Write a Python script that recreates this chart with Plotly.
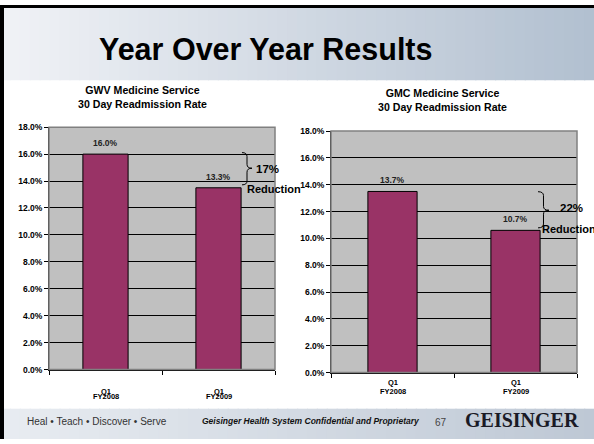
import plotly.graph_objects as go

W, H = 594, 444

# ---------------- data ----------------
categories = ["Q1 FY2008", "Q1 FY2009"]
cat_line1 = ["Q1", "Q1"]
cat_line2 = ["FY2008", "FY2009"]

gwv_values = [16.0, 13.5]
gwv_labels = ["16.0%", "13.3%"]
gmc_values = [13.5, 10.6]
gmc_labels = ["13.7%", "10.7%"]

y_ticks = [0, 2, 4, 6, 8, 10, 12, 14, 16, 18]
y_ticktext = ["<b>%.1f%%</b>" % v for v in y_ticks]

main_title = "Year Over Year Results"
left_title = "GWV Medicine Service<br>30 Day Readmission Rate"
right_title = "GMC Medicine Service<br>30 Day Readmission Rate"
left_reduction = "17%"
right_reduction = "22%"

BAR = "#993366"
FONT = "Liberation Sans, Arial, sans-serif"


def px(x):
    return x / W


def py(y):
    return 1 - y / H


fig = go.Figure()
fig.add_trace(go.Bar(x=categories, y=gwv_values, marker=dict(color=BAR, line=dict(color="black", width=1)),
                     xaxis="x", yaxis="y", showlegend=False, hoverinfo="skip"))
fig.add_trace(go.Bar(x=categories, y=gmc_values, marker=dict(color=BAR, line=dict(color="black", width=1)),
                     xaxis="x2", yaxis="y2", showlegend=False, hoverinfo="skip"))

yax = dict(range=[0, 18], tickvals=y_ticks, ticktext=y_ticktext, showgrid=True, gridcolor="black",
           gridwidth=1, showline=True, linecolor="black", linewidth=1, ticks="outside", ticklen=4,
           tickcolor="black", tickfont=dict(family=FONT, size=8.5, color="black"), zeroline=False,
           fixedrange=True)
xax = dict(type="category", showline=True, linecolor="black", linewidth=1, ticks="outside",
           tickson="boundaries", ticklen=4, tickcolor="black", showticklabels=False, showgrid=False,
           fixedrange=True)

fig.update_layout(
    width=W, height=H, margin=dict(l=0, r=0, t=0, b=0),
    paper_bgcolor="white", plot_bgcolor="#c0c0c0",
    bargap=0.6,
    xaxis=dict(domain=[px(49), px(275)], anchor="y", **xax),
    yaxis=dict(domain=[py(373), py(125)], anchor="x", **yax),
    xaxis2=dict(domain=[px(331), px(577)], anchor="y2", **xax),
    yaxis2=dict(domain=[py(376), py(129)], anchor="x2", **yax),
)

shapes = []
# title band gradient
N = 60
c0 = (240, 242, 246)
c1 = (178, 192, 208)
for i in range(N):
    t = i / (N - 1)
    col = "rgb(%d,%d,%d)" % tuple(round(a + (b - a) * t) for a, b in zip(c0, c1))
    shapes.append(dict(type="rect", xref="paper", yref="paper", x0=i / N, x1=(i + 1) / N + 0.002,
                       y0=py(77), y1=1, fillcolor=col, line=dict(width=0), layer="below"))
# footer gradient
f0 = (232, 236, 241)
f1 = (190, 200, 213)
for i in range(N):
    t = i / (N - 1)
    col = "rgb(%d,%d,%d)" % tuple(round(a + (b - a) * t) for a, b in zip(f0, f1))
    shapes.append(dict(type="rect", xref="paper", yref="paper", x0=i / N, x1=(i + 1) / N + 0.002,
                       y0=0, y1=py(413), fillcolor=col, line=dict(width=0), layer="below"))
# slide black frame
shapes.append(dict(type="rect", xref="paper", yref="paper", x0=0, x1=px(4), y0=0, y1=1,
                   fillcolor="black", line=dict(width=0)))
shapes.append(dict(type="rect", xref="paper", yref="paper", x0=0, x1=1, y0=py(3), y1=1,
                   fillcolor="black", line=dict(width=0)))
# plot area borders
for xr, yr in (("x domain", "y domain"), ("x2 domain", "y2 domain")):
    shapes.append(dict(type="rect", xref=xr, yref=yr, x0=0, x1=1, y0=0, y1=1,
                       line=dict(color="#808080", width=1.5), layer="above"))


def brace(x0, xv, xt, ytop, ybot, ymid, r=4):
    pts = [
        "M %f,%f" % (px(x0), py(ytop)),
        "Q %f,%f %f,%f" % (px(xv), py(ytop), px(xv), py(ytop + r)),
        "L %f,%f" % (px(xv), py(ymid - r)),
        "Q %f,%f %f,%f" % (px(xv), py(ymid), px(xt), py(ymid)),
        "Q %f,%f %f,%f" % (px(xv), py(ymid), px(xv), py(ymid + r)),
        "L %f,%f" % (px(xv), py(ybot - r)),
        "Q %f,%f %f,%f" % (px(xv), py(ybot), px(x0), py(ybot)),
    ]
    return dict(type="path", xref="paper", yref="paper", path=" ".join(pts),
                line=dict(color="black", width=1))


shapes.append(brace(242, 247, 252, 151, 184, 167))
shapes.append(brace(538, 543.5, 549, 191, 228, 210))
fig.update_layout(shapes=shapes)

ann = []
ann.append(dict(text="<b>" + main_title + "</b>", x=px(265), y=py(45), xref="paper", yref="paper",
                showarrow=False, font=dict(family=FONT, size=30.5, color="black"),
                xanchor="center", yanchor="middle"))
ann.append(dict(text="<b>" + left_title + "</b>", x=px(142), y=py(94.5), xref="paper", yref="paper",
                showarrow=False, font=dict(family=FONT, size=10.6, color="black"),
                xanchor="center", yanchor="middle"))
ann.append(dict(text="<b>" + right_title + "</b>", x=px(442), y=py(97.5), xref="paper", yref="paper",
                showarrow=False, font=dict(family=FONT, size=10.6, color="black"),
                xanchor="center", yanchor="middle"))
# value labels
for xr, yr, vals, labs in (("x", "y", gwv_values, gwv_labels), ("x2", "y2", gmc_values, gmc_labels)):
    for c, v, l in zip(categories, vals, labs):
        ann.append(dict(text="<b>" + l + "</b>", x=c, y=v, xref=xr, yref=yr, showarrow=False,
                        yanchor="bottom", yshift=4, font=dict(family=FONT, size=8.5, color="#222222")))
# category labels (left chart's two lines overlap, as in the original slide)
for c, l1, l2 in zip(categories, cat_line1, cat_line2):
    ann.append(dict(text="<b>" + l1 + "</b>", x=c, y=py(395), xref="x", yref="paper", showarrow=False,
                    yanchor="middle", font=dict(family=FONT, size=7.5, color="black")))
    ann.append(dict(text="<b>" + l2 + "</b>", x=c, y=py(400.5), xref="x", yref="paper", showarrow=False,
                    yanchor="middle", font=dict(family=FONT, size=7.5, color="black")))
    ann.append(dict(text="<b>" + l1 + "</b>", x=c, y=py(386), xref="x2", yref="paper", showarrow=False,
                    yanchor="middle", font=dict(family=FONT, size=7.5, color="black")))
    ann.append(dict(text="<b>" + l2 + "</b>", x=c, y=py(395.5), xref="x2", yref="paper", showarrow=False,
                    yanchor="middle", font=dict(family=FONT, size=7.5, color="black")))
# reductions
ann.append(dict(text="<b>" + left_reduction + "</b>", x=px(254), y=py(168), xref="paper", yref="paper",
                showarrow=False, xanchor="left", yanchor="middle",
                font=dict(family=FONT, size=11.5, color="black")))
ann.append(dict(text="<b>Reduction</b>", x=px(245), y=py(188), xref="paper", yref="paper",
                showarrow=False, xanchor="left", yanchor="middle",
                font=dict(family=FONT, size=11, color="black")))
ann.append(dict(text="<b>" + right_reduction + "</b>", x=px(558), y=py(207.5), xref="paper", yref="paper",
                showarrow=False, xanchor="left", yanchor="middle",
                font=dict(family=FONT, size=11.5, color="black")))
ann.append(dict(text="<b>Reduction</b>", x=px(540), y=py(229), xref="paper", yref="paper",
                showarrow=False, xanchor="left", yanchor="middle",
                font=dict(family=FONT, size=11, color="black")))
# footer
ann.append(dict(text="Heal \u2022 Teach \u2022 Discover \u2022 Serve", x=px(25), y=py(426), xref="paper",
                yref="paper", showarrow=False, xanchor="left", yanchor="middle",
                font=dict(family=FONT, size=10, color="#333333")))
ann.append(dict(text="<b><i>Geisinger Health System Confidential and Proprietary</i></b>", x=px(200),
                y=py(426), xref="paper", yref="paper", showarrow=False, xanchor="left", yanchor="middle",
                font=dict(family=FONT, size=8.5, color="#111111")))
ann.append(dict(text="67", x=px(433), y=py(427), xref="paper", yref="paper", showarrow=False,
                xanchor="left", yanchor="middle", font=dict(family=FONT, size=10, color="#444444")))
ann.append(dict(text="<b>GEISINGER</b>", x=px(463), y=py(425), xref="paper", yref="paper",
                showarrow=False, xanchor="left", yanchor="middle",
                font=dict(family="Liberation Serif, Times New Roman, serif", size=20, color="#1a1a26")))
fig.update_layout(annotations=ann)

fig.write_html("out.html")
